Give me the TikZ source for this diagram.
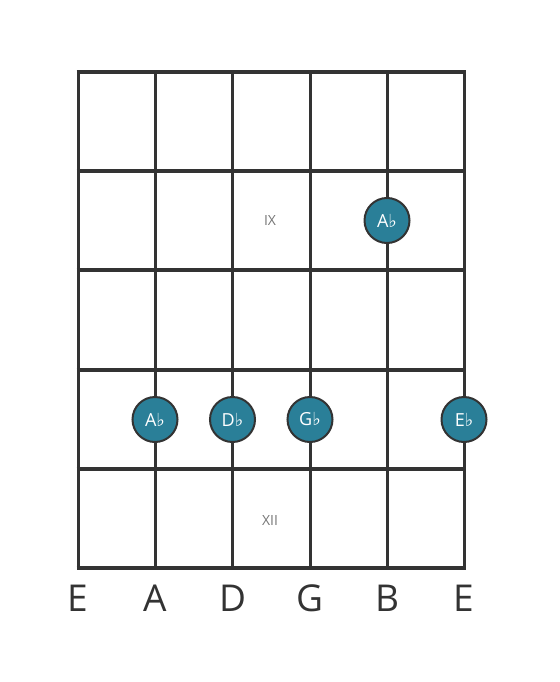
\documentclass[tikz,border=0pt]{standalone}
\usepackage{fontspec}
\setmainfont{Open Sans}
\newfontfamily\symfont{DejaVu Sans}
\definecolor{ink}{HTML}{333333}
\definecolor{dotfill}{HTML}{2A7F98}
\definecolor{fretno}{HTML}{777777}
\begin{document}
\begin{tikzpicture}[x=1pt,y=-1pt,
  stringline/.style={draw=ink,line width=3pt},
  fretline/.style={draw=ink,line width=4.5pt},
  note/.style={circle,draw=ink,line width=2pt,fill=dotfill,minimum size=45pt,inner sep=0pt,text=white,font=\fontsize{18}{18}\selectfont},
  strlabel/.style={text=ink,font=\fontsize{37}{37}\selectfont},
  fretlabel/.style={text=fretno,font=\fontsize{14}{14}\selectfont}]
\useasboundingbox[fill=white] (0,0) rectangle (559,682);
% strings
\foreach \i/\x in {1/78,2/155,3/232.5,4/310,5/387,6/464}{
  \coordinate (st\i) at (\x,72);
  \coordinate (sb\i) at (\x,568);
  \draw[stringline] (st\i) -- (sb\i);
}
% frets
\foreach \j/\y in {0/72,1/171,2/270,3/370,4/469,5/568}{
  \coordinate (fl\j) at (76.5,\y);
  \coordinate (fr\j) at (465.5,\y);
  \draw[fretline] (fl\j) -- (fr\j);
}
% fret numbers
\node[fretlabel] (ix) at (270,221) {IX};
\node[fretlabel] (xii) at (270,520) {XII};
% notes
\node[note] (n1) at (387,220.5) {A{\symfont\char"266D}};
\node[note] (n2) at (155,419.5) {A{\symfont\char"266D}};
\node[note] (n3) at (232.5,419.5) {D{\symfont\char"266D}};
\node[note] (n4) at (310,419.5) {G{\symfont\char"266D}};
\node[note] (n5) at (464,419.5) {E{\symfont\char"266D}};
% string names
\foreach \i/\x/\t in {1/78/E,2/155/A,3/232.5/D,4/310/G,5/387/B,6/464/E}{
  \node[strlabel] (lab\i) at (\x,598) {\t};
}
\end{tikzpicture}
\end{document}
